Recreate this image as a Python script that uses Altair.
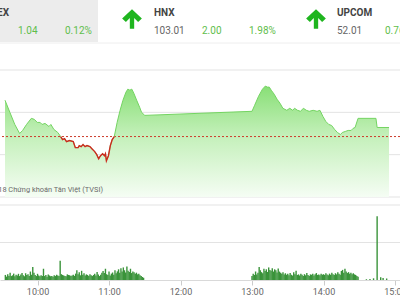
import altair as alt
import pandas as pd

# ---------------- data ----------------
REF = 862.14  # reference (previous close)

price_t = [
    572.7, 576.8, 580.9, 585.0, 587.5, 590.8, 594.8, 597.3, 599.8, 602.2,
    603.8, 606.3, 609.6, 611.2, 613.7, 617.0, 619.4, 621.0, 622.7, 624.3,
    626.8, 630.0, 631.7, 634.1, 635.0, 636.6, 638.2, 639.9, 641.5, 644.0,
    645.6, 648.0, 649.7, 651.3, 652.9, 654.6, 656.2, 657.0, 657.8, 659.5,
    661.1, 662.7, 664.4, 666.8, 669.3, 671.7, 674.2, 675.8, 677.5, 679.1,
    680.8, 683.2, 685.7, 687.3, 690.0, 780.0, 782.2, 785.5, 788.8, 791.2,
    792.9, 794.5, 796.1, 798.6, 801.0, 803.5, 805.9, 809.2, 811.7, 814.1,
    815.7, 818.2, 820.7, 823.1, 825.6, 828.0, 831.3, 834.6, 837.0, 839.5,
    841.9, 844.4, 846.8, 849.3, 851.7, 854.2, 855.8, 858.3, 860.7, 863.2,
    864.8, 866.5, 869.0, 884.0, 885.0, 895.0,
]
price_v = [
    866.43, 865.0, 863.57, 862.5, 862.86, 863.57, 864.29, 864.17, 863.81, 863.81,
    863.57, 863.69, 863.33, 863.57, 862.98, 862.62, 862.14, 861.79, 861.9, 861.55,
    861.67, 861.55, 860.83, 860.83, 861.07, 860.95, 861.19, 860.95, 861.07, 860.95,
    860.71, 860.36, 860.0, 859.52, 859.88, 860.12, 859.88, 860.12, 859.29, 859.88,
    861.07, 861.79, 862.14, 863.81, 865.24, 866.43, 867.38, 867.74, 867.62, 867.74,
    867.26, 866.43, 865.6, 865.0, 864.64, 865.12, 865.83, 866.9, 867.74, 868.1,
    867.98, 867.98, 867.62, 867.14, 866.55, 866.07, 865.48, 865.24, 865.48, 865.24,
    865.48, 865.24, 865.12, 865.48, 865.24, 865.12, 865.24, 865.12, 865.24, 864.52,
    863.93, 863.57, 863.45, 862.98, 862.62, 862.38, 862.62, 862.74, 862.86, 862.86,
    863.1, 863.21, 864.29, 864.29, 863.21, 863.21,
]

# volume (thousand shares), one bar per minute
vol_am_start = 573   # 9:33
vol_am = [
    270, 180, 310, 220, 390, 210, 250, 340, 200, 280,
    240, 330, 210, 300, 370, 250, 200, 360, 270, 310,
    220, 450, 280, 700, 390, 270, 210, 330, 240, 200,
    250, 220, 600, 210, 270, 180, 300, 240, 200, 220,
    170, 250, 210, 280, 240, 220, 1030, 310, 270, 240,
    220, 200, 300, 270, 250, 210, 240, 280, 220, 340,
    520, 310, 420, 250, 490, 280, 360, 240, 300, 270,
    220, 310, 250, 210, 270, 340, 240, 430, 300, 210,
    280, 390, 480, 370, 600, 310, 270, 450, 240, 340,
    400, 280, 520, 360, 460, 570, 390, 630, 450, 670,
    520, 400, 720, 490, 430, 600, 370, 460, 420, 330,
    390, 300, 340, 250, 220, 160, 120,
]
vol_pm_start = 780   # 13:00
vol_pm = [
    220, 330, 270, 450, 300, 390, 700, 520, 420, 360,
    600, 480, 570, 430, 670, 540, 490, 630, 450, 570,
    520, 400, 610, 450, 390, 340, 420, 300, 360, 280,
    330, 250, 370, 280, 240, 420, 310, 490, 270, 300,
    240, 340, 280, 220, 310, 250, 370, 270, 210, 300,
    280, 340, 240, 310, 370, 270, 300, 250, 330, 280,
    310, 270, 360, 300, 250, 340, 280, 390, 310, 270,
    360, 300, 420, 340, 280, 480, 540, 390, 600, 450,
    370, 420, 340, 390, 310, 360, 300, 270, 220, 180,
]
vol_late_t = [876, 879, 882, 885, 888, 890, 893]
vol_late_v = [40, 60, 90, 3400, 150, 110, 80]

price_grid = [855, 860, 865, 870]
vol_grid = [2000, 4000]
tick_minutes = [600, 660, 720, 780, 840, 900]

# ---------------- frames ----------------
price_df = pd.DataFrame({"t": price_t, "v": price_v})
vol_t = (list(range(vol_am_start, vol_am_start + len(vol_am)))
         + list(range(vol_pm_start, vol_pm_start + len(vol_pm)))
         + vol_late_t)
vol_df = pd.DataFrame({"t": vol_t, "vol": vol_am + vol_pm + vol_late_v})
pgrid_df = pd.DataFrame({"v": price_grid})
vgrid_df = pd.DataFrame({"vol": vol_grid})
ref_df = pd.DataFrame({"v": [REF]})
one = pd.DataFrame({"a": [0]})

# ---------------- scales ----------------
xscale = alt.Scale(domain=[572.7, 900], nice=False, zero=False)
pscale = alt.Scale(domain=[855, 870], range=[197, 70], nice=False, zero=False)
vscale = alt.Scale(domain=[0, 4000], range=[280, 205], nice=False, zero=False)
xaxis = alt.Axis(values=tick_minutes, labelExpr="floor(datum.value/60) + ':00'",
                 title=None, grid=False, tickSize=5, tickColor="#cccccc",
                 domainColor="#d9d9d9", labelColor="#666666", labelFontSize=9,
                 labelFont="Roboto", labelPadding=2, labelFlush=False,
                 labelOverlap=False)
X = alt.X("t:Q", scale=xscale, axis=xaxis)

pgrid = alt.Chart(pgrid_df).mark_rule(color="#e3e3e3", strokeWidth=1).encode(
    y=alt.Y("v:Q", scale=pscale, axis=None))
vgrid = alt.Chart(vgrid_df).mark_rule(color="#e3e3e3", strokeWidth=1).encode(
    y=alt.Y("vol:Q", scale=vscale, axis=None))

area = alt.Chart(price_df).mark_area(
    clip=True, interpolate="linear",
    color=alt.Gradient(gradient="linear", x1=0, x2=0, y1=0, y2=1,
                       stops=[alt.GradientStop(color="#88df76", offset=0),
                              alt.GradientStop(color="#c4f0ba", offset=0.45),
                              alt.GradientStop(color="#f5fdf4", offset=1)])
).encode(x=X, y=alt.Y("v:Q", scale=pscale, axis=None),
         y2=alt.datum(855))

refline = alt.Chart(ref_df).mark_rule(color="#cc3b2a", strokeDash=[2, 2],
                                      strokeWidth=1).encode(
    y=alt.Y("v:Q", scale=pscale, axis=None))

gline = alt.Chart(price_df).mark_line(clip=True, color="#74d462",
                                      strokeWidth=1).encode(
    x=X, y=alt.Y("v:Q", scale=pscale, axis=None))

rline = alt.Chart(price_df).transform_filter(
    f"datum.v <= {REF + 0.001}").mark_line(clip=True, color="#cc2a1e",
                                            strokeWidth=1.4).encode(
    x=X, y=alt.Y("v:Q", scale=pscale, axis=None))

bars = alt.Chart(vol_df).mark_bar(clip=True, size=1.4, color="#3a933a").encode(
    x=X, y=alt.Y("vol:Q", scale=vscale, axis=None), y2=alt.datum(0))

# ---------------- header ----------------
def txt(s, x, y, color, size=10, bold=False, align="left"):
    return alt.Chart(one).mark_text(
        text=s, align=align, baseline="middle", font="Roboto", fontSize=size,
        fontWeight="bold" if bold else "normal", color=color
    ).encode(x=alt.value(x), y=alt.value(y))

ARROW = ("M0,-1 L1,-0.05 L0.62,0.3 L0.22,-0.1 L0.22,1 L-0.22,1 "
         "L-0.22,-0.1 L-0.62,0.3 L-1,-0.05 Z")

def arrow(x, y):
    return alt.Chart(one).mark_point(
        shape=ARROW, filled=True, color="#1fb51f", size=390, opacity=1
    ).encode(x=alt.value(x), y=alt.value(y))

graybox = alt.Chart(one).mark_rect(color="#ececec").encode(
    x=alt.value(0), x2=alt.value(98), y=alt.value(0), y2=alt.value(42))
hline = alt.Chart(one).mark_rule(color="#eeeeee", strokeWidth=1).encode(
    x=alt.value(0), x2=alt.value(400), y=alt.value(43))

GREEN = "#5fbe4c"
DARK = "#444444"
GREY = "#666666"
header = [
    graybox, hline,
    txt("VN-INDEX", 9, 13, DARK, bold=True, align="right"),
    txt("1.04", 18, 31, GREEN), txt("0.12%", 65, 31, GREEN),
    arrow(132, 19),
    txt("HNX", 154, 13, DARK, bold=True),
    txt("103.01", 154, 31, GREY), txt("2.00", 202, 31, GREEN),
    txt("1.98%", 249, 31, GREEN),
    arrow(316, 19),
    txt("UPCOM", 337, 13, DARK, bold=True),
    txt("52.01", 337, 31, GREY), txt("0.76%", 385, 31, GREEN),
    txt("© 2018 Chứng khoán Tân Việt (TVSI)", 103, 190, "#6a6a6a", size=7.4,
        align="right"),
]

chart = alt.layer(
    pgrid, vgrid, area, refline, gline, rline, bars, *header
).resolve_scale(y="independent").properties(
    width=400, height=280,
    padding={"left": 0, "top": 0, "right": 0, "bottom": 20},
    autosize="none", background="white"
).configure_view(stroke=None)

chart.save("out.html", embed_options={"renderer": "svg", "actions": False})
